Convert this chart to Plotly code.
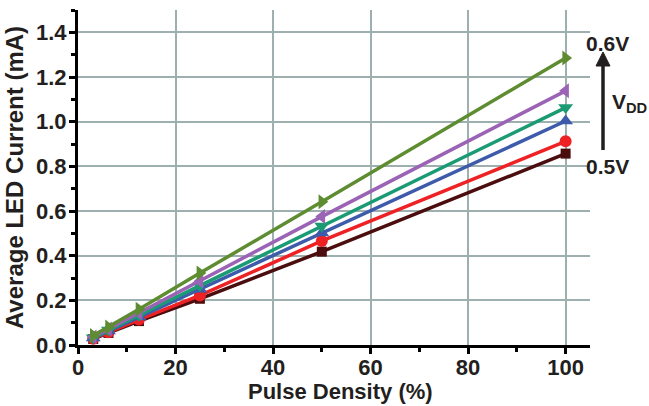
import plotly.graph_objects as go

pulse_density = [3.125, 6.25, 12.5, 25, 50, 100]

series_names = ["0.60V", "0.58V", "0.56V", "0.54V", "0.52V", "0.50V"]
i_green = [0.042, 0.080, 0.160, 0.322, 0.641, 1.285]
i_purple = [0.036, 0.072, 0.143, 0.286, 0.575, 1.138]
i_teal = [0.033, 0.067, 0.133, 0.266, 0.533, 1.063]
i_blue = [0.031, 0.063, 0.125, 0.250, 0.502, 1.003]
i_red = [0.028, 0.057, 0.114, 0.222, 0.466, 0.912]
i_brown = [0.027, 0.054, 0.107, 0.207, 0.418, 0.857]

series_values = [i_green, i_purple, i_teal, i_blue, i_red, i_brown]
colors = ["#5E8C31", "#9B63B5", "#1A9B74", "#3D5BAA", "#EE2124", "#4B0D0D"]
symbols = ["triangle-right", "triangle-left", "triangle-down", "triangle-up", "circle", "square"]
sizes = [13, 13, 13, 13, 12, 10]

x_ticks = [0, 20, 40, 60, 80, 100]
y_ticks = [0.0, 0.2, 0.4, 0.6, 0.8, 1.0, 1.2, 1.4]
y_tick_labels = ["0.0", "0.2", "0.4", "0.6", "0.8", "1.0", "1.2", "1.4"]

x_title = "Pulse Density (%)"
y_title = "Average LED Current (mA)"

FONT = "Liberation Sans, Arial, sans-serif"
TXT = "#231F20"

fig = go.Figure()
for name, vals, c, s, sz in reversed(list(zip(series_names, series_values, colors, symbols, sizes))):
    fig.add_trace(go.Scatter(
        x=pulse_density, y=vals, mode="lines+markers", name=name,
        line=dict(color=c, width=3.5),
        marker=dict(symbol=s, size=sz, color=c),
        showlegend=False, cliponaxis=False,
    ))

axis_common = dict(
    showline=True, linecolor="black", linewidth=3,
    ticks="outside", ticklen=6, tickwidth=3, tickcolor="black",
    showgrid=True, gridcolor="#9DB0AF", gridwidth=2,
    zeroline=False, mirror=False, automargin=False,
    tickfont=dict(family=FONT, size=22, color=TXT, weight="bold"),
)

fig.update_xaxes(
    range=[0, 105], tickvals=x_ticks, ticktext=[str(v) for v in x_ticks],
    minor=dict(ticks="outside", ticklen=4, tickwidth=3, tickcolor="black", dtick=10, tick0=0, showgrid=False),
    ticklabelstandoff=-5,
    **axis_common,
)
fig.update_yaxes(
    range=[0, 1.5], tickvals=y_ticks, ticktext=y_tick_labels,
    minor=dict(ticks="outside", ticklen=4, tickwidth=3, tickcolor="black", dtick=0.1, tick0=0, showgrid=False),
    ticklabelstandoff=-2,
    title=dict(text=y_title, font=dict(family=FONT, size=24, color=TXT, weight="bold"), standoff=6),
    **axis_common,
)

def px_x(p):
    return (p - 78) / 512.0

def px_y(p):
    return (345 - p) / 335.0

fig.add_annotation(xref="paper", yref="paper", x=px_x(340), y=px_y(406), text=x_title,
                   showarrow=False, xanchor="center", yanchor="bottom",
                   font=dict(family=FONT, size=22, color=TXT, weight="bold"))

ann_font = dict(family=FONT, size=21, color=TXT, weight="bold")
fig.add_annotation(xref="paper", yref="paper", x=px_x(584), y=px_y(43), text="0.6V",
                   showarrow=False, xanchor="left", yanchor="middle", font=ann_font)
fig.add_annotation(xref="paper", yref="paper", x=px_x(584), y=px_y(167), text="0.5V",
                   showarrow=False, xanchor="left", yanchor="middle", font=ann_font)
fig.add_annotation(xref="paper", yref="paper", x=px_x(610), y=px_y(103),
                   text="V<sub>DD</sub>", showarrow=False, xanchor="left", yanchor="middle",
                   font=ann_font)
# VDD arrow
fig.add_shape(type="line", xref="paper", yref="paper",
              x0=px_x(603), x1=px_x(603), y0=px_y(150), y1=px_y(64),
              line=dict(color=TXT, width=3.5))
fig.add_shape(type="path", xref="paper", yref="paper",
              path=f"M {px_x(596)} {px_y(66)} L {px_x(603)} {px_y(52)} L {px_x(610)} {px_y(66)} Z",
              fillcolor=TXT, line=dict(color=TXT, width=1))

fig.update_layout(
    width=649, height=406,
    margin=dict(l=78, r=59, t=10, b=61),
    plot_bgcolor="white", paper_bgcolor="white",
    font=dict(family=FONT),
)

fig.write_html("out.html")
